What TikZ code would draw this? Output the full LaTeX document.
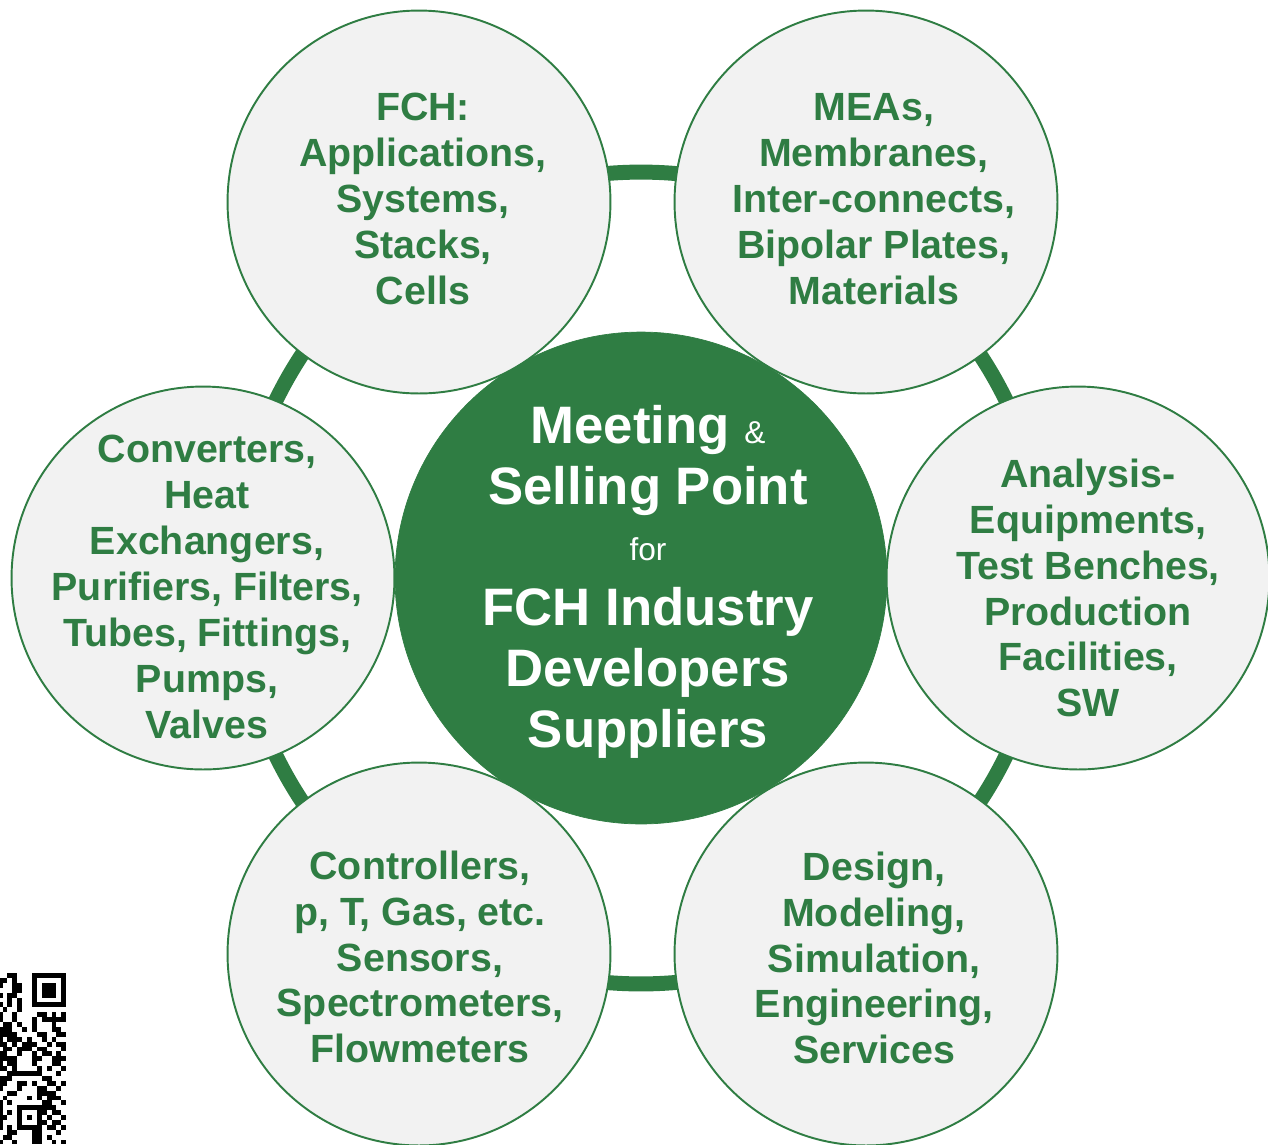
\documentclass[tikz,border=0pt]{standalone}
\usepackage{fontspec}
\setmainfont{Liberation Sans}
\definecolor{fchgreen}{RGB}{47,125,67}
\definecolor{bubble}{RGB}{242,242,242}

\begin{document}
\begin{tikzpicture}[x=0.02cm,y=-0.02cm,
  sat/.style={circle,draw=fchgreen,line width=1.1pt,fill=bubble,minimum size=7.66cm,inner sep=0pt},
  sattext/.style={align=center,inner sep=0pt,text=fchgreen,font=\fontsize{22.4}{26.1}\selectfont\bfseries},
  hubtext/.style={align=center,inner sep=0pt,text=white,font=\fontsize{30}{34.6}\selectfont\bfseries}]

   \useasboundingbox (0,0) rectangle (1268,1144);

   % centre and ring
   \node[circle,fill=fchgreen,draw=fchgreen,minimum size=9.84cm] (hub) at (641,578) {};
   \draw[fchgreen,line width=0.3cm] (hub.center) circle (8.12cm);
   \node[hubtext,anchor=north] (hub-t) at (648,405)
     {Meeting {\fontsize{18}{20}\selectfont\mdseries\&}\\Selling Point\\[-2.8pt]
      {\fontsize{18}{20}\selectfont\mdseries for}\\[2.8pt]FCH Industry\\Developers\\Suppliers};

   % the six bubbles
   \node[sat] (apps) at (419,202) {};
   \node[sat] (mea) at (866,202) {};
   \node[sat] (ana) at (1078,578) {};
   \node[sat] (design) at (866,954) {};
   \node[sat] (ctrl) at (419,954) {};
   \node[sat] (conv) at (203,578) {};

   \node[sattext] (apps-t) at (423,199) {FCH:\\Applications,\\Systems,\\Stacks,\\Cells};
   \node[sattext] (mea-t) at (874,199) {MEAs,\\Membranes,\\Inter-connects,\\Bipolar Plates,\\Materials};
   \node[sattext] (ana-t) at (1088,588) {Analysis-\\Equipments,\\Test Benches,\\Production\\Facilities,\\SW};
   \node[sattext] (design-t) at (874,958) {Design,\\Modeling,\\Simulation,\\Engineering,\\Services};
   \node[sattext] (ctrl-t) at (420,957) {Controllers,\\p, T, Gas, etc.\\Sensors,\\Spectrometers,\\Flowmeters};
   \node[sattext] (conv-t) at (207,587) {Converters,\\Heat\\Exchangers,\\Purifiers, Filters,\\Tubes, Fittings,\\Pumps,\\Valves};

   % qr code, cut at the border
   \begin{scope}[shift={(-2.3,973)},x=0.098cm,y=-0.098cm]
    \fill (7,0) rectangle (14,7);
    \fill[white] (8,1) rectangle (13,6);
    \fill (9,2) rectangle (12,5);
    \fill (4,27) rectangle (9,32);
    \fill[white] (5,28) rectangle (8,31);
    \fill (6,29) rectangle (7,30);
    \foreach \r/\cl in {0/{2,3},1/{0,1,3},2/{0,3,4},3/{3,4},4/{0,2,3},5/{2,4},6/{0,2,4},7/{1,4},
        8/{0,3,8,9,11,13},9/{0,3,7,9,10,11,12,13},10/{1,2,4,7,11},11/{0,1,2,5,7,11,12},
        12/{0,1,2,3,8,9,12,13},13/{0,2,3,4,6,9,11},14/{0,1,3,5,6,7,10,12,13},15/{1,2,4,5,6,8,9,13},
        16/{0,1,4,7,9,10,12},17/{0,1,2,3,7,8,11,12,13},18/{0,2,3,7,11,12},19/{0,1,3,8,10,13},
        20/{2,3,4,5,6,7,8,12},21/{0,1,2,9,10},22/{0,1,4,5,7,10,11,13},23/{0,4,8,9,12},
        24/{2,3,8,9,10,11},25/{1,6,8,10,11,12},26/{0,2,9,10,13},27/{0,9,10,11},28/{0,2,9,11,12},
        29/{0,1,10,13},30/{0,9,11,12},31/{0,2,10,11,13},32/{2,3,7,8,12},33/{1,2,7,8,10},34/{0,3,7,8,11,13}}
      \foreach \c in \cl \fill (\c,\r) rectangle ++(1,1);
   \end{scope}
\end{tikzpicture}
\end{document}
